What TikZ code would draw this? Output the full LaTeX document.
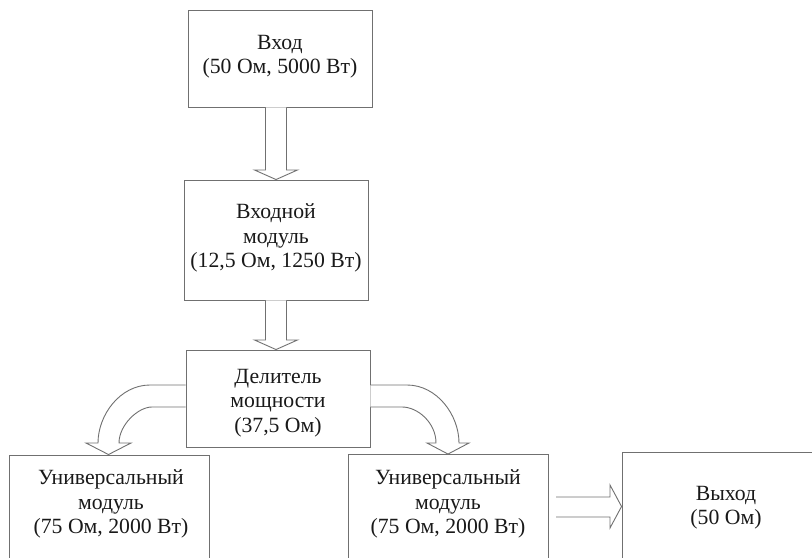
\documentclass[tikz,border=0pt]{standalone}
\usepackage{fontspec}
\setmainfont{Liberation Serif}
\usetikzlibrary{calc}
\definecolor{ln}{RGB}{112,112,112}
\definecolor{tx}{RGB}{25,25,25}
\begin{document}
\begin{tikzpicture}[x=1bp,y=-1bp,
  box/.style={draw=ln, line width=0.9bp, inner sep=0pt},
  txt/.style={align=center, text=tx, inner sep=0pt, font=\fontsize{21.8}{24.5}\selectfont},
  blk/.style={draw=ln, line width=0.9bp, fill=white, line join=miter}]
\useasboundingbox (0,0) rectangle (812,558);

% boxes
\node[box, minimum width=184bp, minimum height=97bp] (in) at (280,58.5) {};
\node[box, minimum width=184bp, minimum height=120bp] (im) at (276,240) {};
\node[box, minimum width=184bp, minimum height=97bp] (dv) at (278,398.5) {};
\node[box, minimum width=200bp, minimum height=110bp] (u1) at (109,510) {};
\node[box, minimum width=200bp, minimum height=110bp] (u2) at (448,509.5) {};
\node[box, minimum width=210bp, minimum height=113bp] (out) at (727,508.5) {};

% texts
\node[txt] (intx) at (280,57) {Вход\\(50 Ом, 5000 Вт)};
\node[txt] (imtx) at (276,238) {Входной\\модуль\\(12,5 Ом, 1250 Вт)};
\node[txt] (dvtx) at (278,403) {Делитель\\мощности\\(37,5 Ом)};
\node[txt] (u1tx) at (111,504) {Универсальный\\модуль\\(75 Ом, 2000 Вт)};
\node[txt] (u2tx) at (448,504) {Универсальный\\модуль\\(75 Ом, 2000 Вт)};
\node[txt] (outtx) at (726,507.5) {Выход\\(50 Ом)};

% block arrows
\path[blk] (265.5,0 |- in.south) -- (265.5,170) -- (254.5,170) -- (276,0 |- im.north)
  -- (297.5,170) -- (286.5,170) -- (286.5,0 |- in.south);
\path[blk] (265.5,0 |- im.south) -- (265.5,340) -- (254.5,340) -- (276,0 |- dv.north)
  -- (297.5,340) -- (286.5,340) -- (286.5,0 |- im.south);
\path[blk] (dv.west |- 0,385) -- (150,385) .. controls (120,385) and (98,415) .. (98,443)
  -- (86,443) -- (108.5,0 |- u1.north) -- (131,443) -- (119,443)
  .. controls (119,425) and (138,407) .. (152,407) -- (dv.west |- 0,407);
\path[blk] (dv.east |- 0,385) -- (407,385) .. controls (437,385) and (459,415) .. (459,443)
  -- (469,443) -- (448,0 |- u2.north) -- (427,443) -- (436,443)
  .. controls (436,423) and (418,407) .. (402,407) -- (dv.east |- 0,407);
\path[blk] (556,497) -- (610,497) -- (610,485) -- (out.west |- 0,506.5)
  -- (610,528) -- (610,517) -- (556,517);
\end{tikzpicture}
\end{document}
